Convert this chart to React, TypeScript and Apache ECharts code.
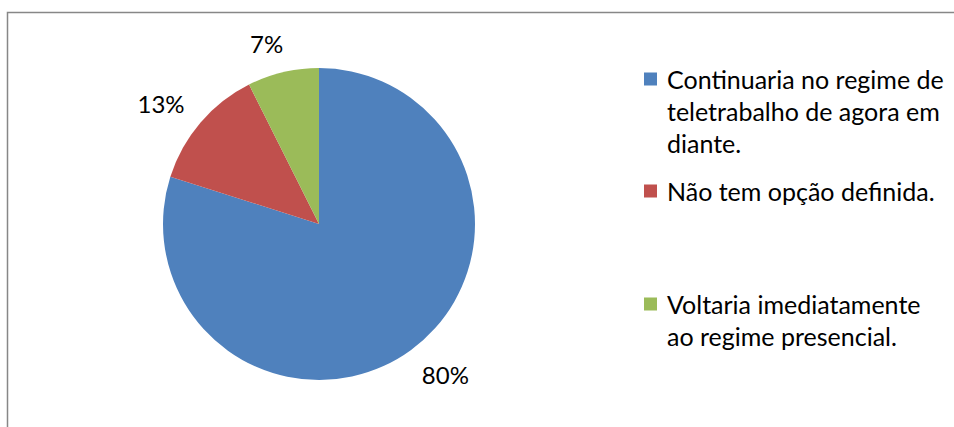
import React, { useEffect, useRef } from "react";
import * as echarts from "echarts";

const categories = [
  "Continuaria no regime de teletrabalho de agora em diante.",
  "Não tem opção definida.",
  "Voltaria imediatamente ao regime presencial.",
];
const legendLines = [
  ["Continuaria no regime de", "teletrabalho de agora em", "diante."],
  ["Não tem opção definida."],
  ["Voltaria imediatamente", "ao regime presencial."],
];
const values = [79.9, 12.7, 7.4];
const percentLabels = ["80%", "13%", "7%"];
const colors = ["#4F81BD", "#C0504D", "#9BBB59"];

const FONT = "Lato, 'Open Sans', sans-serif";
const LINE_H = 32;
const legendMarkerCenters = [79, 191, 304];

export default function App() {
  const ref = useRef<HTMLDivElement>(null);
  useEffect(() => {
    if (!ref.current) return;
    const chart = echarts.init(ref.current, null, { renderer: "svg" });
    const legends = categories.map((name, i) => {
      const n = legendLines[i].length;
      const text = "\n".repeat(n - 1) + legendLines[i].join("\n");
      return {
        show: true,
        orient: "vertical",
        left: 644,
        top: legendMarkerCenters[i] - ((2 * n - 1) * LINE_H) / 2,
        padding: 0,
        itemWidth: 18,
        itemHeight: 13,
        itemGap: 0,
        icon: "path://M0,0H13V13H0Z M18,0h0.001v0.001h-0.001Z",
        selectedMode: false,
        data: [name],
        formatter: () => text,
        textStyle: {
          fontFamily: FONT,
          fontSize: 25,
          lineHeight: LINE_H,
          color: "#000",
        },
      };
    });
    chart.setOption({
      animation: false,
      color: colors,
      legend: legends,
      graphic: [
        {
          type: "rect",
          shape: { x: 7.5, y: 12.5, width: 1200, height: 800 },
          style: { fill: "none", stroke: "#878787", lineWidth: 1.5 },
          silent: true,
        },
      ],
      series: [
        {
          type: "pie",
          center: [319, 224],
          radius: 156,
          startAngle: 90,
          clockwise: true,
          avoidLabelOverlap: false,
          itemStyle: { borderWidth: 0 },
          label: {
            show: true,
            position: "outside",
            fontFamily: FONT,
            fontSize: 24,
            color: "#000",
            formatter: (p: any) => percentLabels[p.dataIndex],
          },
          labelLine: { show: false, length: 30, length2: -12 },
          emphasis: { disabled: true },
          data: categories.map((name, i) => ({ name, value: values[i] })),
        },
      ],
    });
    return () => chart.dispose();
  }, []);
  return (
    <div
      ref={ref}
      style={{ position: "fixed", left: 0, top: 0, width: 954, height: 427, background: "#fff" }}
    />
  );
}
